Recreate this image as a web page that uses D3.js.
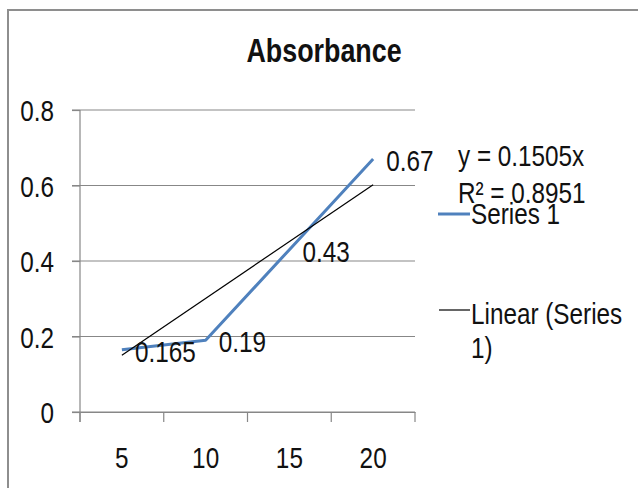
<html>
<head>
<script src="https://d3js.org/d3.v7.min.js"></script>
<style>
body { margin: 0; background: #fff; }
text { font-family: 'Liberation Sans', Arial, sans-serif; fill: #111; }
</style>
</head>
<body>
<div id="chart"></div>
<script>
// data
var categories = ["5", "10", "15", "20"];
var absorbance = [0.165, 0.19, 0.43, 0.67];
var yTicks = [0, 0.2, 0.4, 0.6, 0.8];
var trendSlope = 0.1505;   // y = 0.1505x (x = point number)
var trendR2 = 0.8951;
var chartTitle = "Absorbance";
var legendLabels = ["Series 1", "Linear (Series", "1)"];

var W = 638, H = 488;
var svg = d3.select("#chart").append("svg").attr("width", W).attr("height", H);

// outer chart frame (runs off the right and bottom edge)
svg.append("rect")
  .attr("x", 8).attr("y", 10).attr("width", W).attr("height", H)
  .attr("fill", "none").attr("stroke", "#8e8e8e").attr("stroke-width", 2);

var x = d3.scaleBand().domain(categories).range([80, 415]);
var y = d3.scaleLinear().domain([0, 0.8]).range([412, 110]);
var bw = x.bandwidth();

// squeezed text, the original font is a narrow one
var sx = 0.81;
function label(px, py, str, opts) {
  opts = opts || {};
  return svg.append("text")
    .attr("transform", "translate(" + px + "," + py + ") scale(" + (opts.sx || sx) + ",1)")
    .attr("text-anchor", opts.anchor || "start")
    .style("font-size", (opts.size || 30) + "px")
    .style("font-weight", opts.weight || "normal")
    .text(str);
}

// title
label(324, 62, chartTitle, {anchor: "middle", size: 34, weight: "bold", sx: 0.79});

// gridlines
svg.selectAll(".grid")
  .data(yTicks)
  .enter().append("line")
  .attr("class", "grid")
  .attr("x1", 72).attr("x2", 415)
  .attr("y1", function(d) { return y(d); })
  .attr("y2", function(d) { return y(d); })
  .attr("stroke", "#878787").attr("stroke-width", 1.2);

// y axis
var yAxis = svg.append("g")
  .attr("transform", "translate(80,0)")
  .call(d3.axisLeft(y).tickValues(yTicks).tickSize(8).tickFormat(""));
yAxis.select(".domain").attr("stroke", "#878787").attr("stroke-width", 1.2)
  .attr("d", "M0," + y(0.8) + "V422");
yAxis.selectAll(".tick line").attr("stroke", "#878787").attr("stroke-width", 1.2);

yTicks.forEach(function(t) {
  label(54, y(t) + 11, d3.format("")(t), {anchor: "end"});
});

// x axis: tick marks sit on the category edges
var xAxis = svg.append("g")
  .attr("transform", "translate(0," + y(0) + ")")
  .call(d3.axisBottom(x).tickSize(0).tickFormat(""));
xAxis.select(".domain").attr("stroke", "#878787").attr("stroke-width", 1.2);
var edges = categories.map(function(c) { return x(c); }).concat([x(categories[categories.length - 1]) + bw]);
xAxis.selectAll(".edge")
  .data(edges)
  .enter().append("line")
  .attr("class", "edge")
  .attr("x1", function(d) { return d; }).attr("x2", function(d) { return d; })
  .attr("y1", 0).attr("y2", 10)
  .attr("stroke", "#878787").attr("stroke-width", 1.2);

categories.forEach(function(c) {
  label(x(c) + bw / 2, 468, c, {anchor: "middle"});
});

// series line
var pts = categories.map(function(c, i) { return {cx: x(c) + bw / 2, v: absorbance[i]}; });
var line = d3.line().x(function(d) { return d.cx; }).y(function(d) { return y(d.v); });

svg.append("path")
  .datum(pts)
  .attr("d", line)
  .attr("fill", "none")
  .attr("stroke", "#4f81bd")
  .attr("stroke-width", 3)
  .attr("stroke-linejoin", "round");

// linear trendline through the origin
var trend = categories.map(function(c, i) { return {cx: x(c) + bw / 2, v: trendSlope * (i + 1)}; });
svg.append("path")
  .datum([trend[0], trend[trend.length - 1]])
  .attr("d", line)
  .attr("fill", "none")
  .attr("stroke", "#000")
  .attr("stroke-width", 1.2);

// data labels
pts.forEach(function(p) {
  label(p.cx + 13, y(p.v) + 12, String(p.v));
});

// trendline equation
label(458, 166, "y = " + trendSlope + "x");
label(458, 203, "R\u00b2 = " + trendR2);

// legend
svg.append("line").attr("x1", 438).attr("x2", 470).attr("y1", 214).attr("y2", 214)
  .attr("stroke", "#4f81bd").attr("stroke-width", 3);
label(471, 224, legendLabels[0]);
svg.append("line").attr("x1", 439).attr("x2", 470).attr("y1", 310).attr("y2", 310)
  .attr("stroke", "#000").attr("stroke-width", 1.2);
label(471, 324, legendLabels[1]);
label(471, 358, legendLabels[2]);
</script>
</body>
</html>
